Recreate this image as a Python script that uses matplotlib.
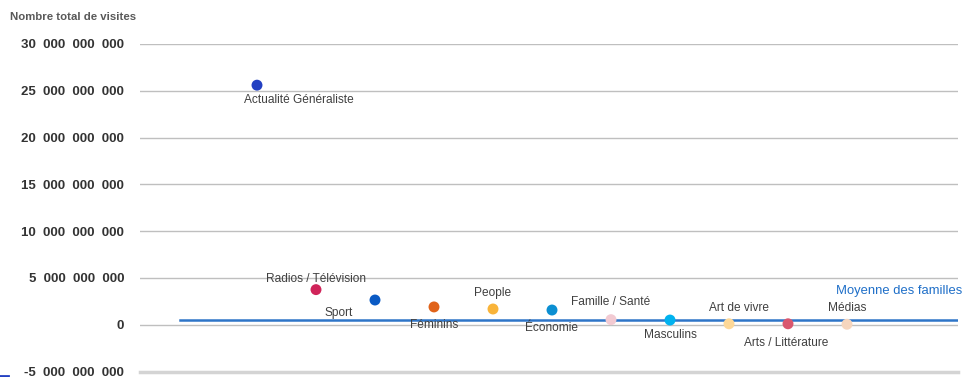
import matplotlib
matplotlib.use("Agg")
import matplotlib.pyplot as plt
from matplotlib.lines import Line2D
from matplotlib.ticker import FuncFormatter

plt.rcParams['font.family'] = ['Liberation Sans', 'DejaVu Sans']

# ---- data ----
categories = ["Actualité Généraliste", "Radios / Télévision", "Sport", "Féminins", "People",
              "Économie", "Famille / Santé", "Masculins", "Art de vivre", "Arts / Littérature", "Médias"]
visits = [25.6e9, 3.75e9, 2.64e9, 1.9e9, 1.68e9, 1.57e9, 0.54e9, 0.5e9, 0.1e9, 0.1e9, 0.05e9]
mean_visits = 0.54e9
mean_label = "Moyenne des familles"
y_title = "Nombre total de visites"
y_ticks = [-5e9, 0, 5e9, 10e9, 15e9, 20e9, 25e9, 30e9]

# ---- style ----
colors = ["#2340c2", "#d0245a", "#0a5ac4", "#e0631a", "#f9b43a", "#0b8fd2",
          "#f2cad2", "#00b2ef", "#fdd898", "#d9576e", "#f6d6be"]
label_offsets = [(42, -14.5), (0, 11), (-36, -13), (0, -18), (0, 16), (0, -18),
                 (0, 18), (0, -15), (10, 16), (-2, -19), (0, 16)]

W, H = 964, 377
fig = plt.figure(figsize=(W / 100, H / 100), dpi=100)
left, right, top, bottom = 140, 958, 44, 371.5
ax = fig.add_axes([left / W, 1 - bottom / H, (right - left) / W, (bottom - top) / H])

xs = list(range(1, len(categories) + 1))
ax.set_xlim(1 - 117 / 59, 1 + (958 - 257) / 59)
ax.set_ylim(-5e9, 30e9)

for y in y_ticks[1:]:
    ax.axhline(y, color="#bfbfbf", lw=1, zorder=1)
ax.axhline(-5e9, color="#d4d4d4", lw=2.5, zorder=1, clip_on=False)

# mean line
x0 = (180 - left) / (right - left)
ax.axhline(mean_visits, xmin=x0, xmax=1.0, color="#2e75c8", lw=1.8, zorder=2)
ax.annotate(mean_label, xy=(1.0, mean_visits), xycoords=("axes fraction", "data"),
            xytext=(4, 29), textcoords="offset pixels", ha="right", va="center",
            fontsize=9.4, color="#1f6fc8", annotation_clip=False)

ax.scatter(xs, visits, s=62, c=colors, zorder=3, linewidths=0)
for x, v, name, (dx, dy) in zip(xs, visits, categories, label_offsets):
    ax.annotate(name, xy=(x, v), xytext=(dx, dy), textcoords="offset pixels",
                ha="center", va="center", fontsize=8.6, color="#404040")

ax.set_yticks(y_ticks)
ax.yaxis.set_major_formatter(FuncFormatter(lambda v, p: f"{int(round(v)):,}".replace(",", "  ")))
ax.tick_params(axis="y", length=0, pad=11.5, labelsize=9.5, labelcolor="#333333")
for lbl in ax.get_yticklabels():
    lbl.set_fontweight("bold")
ax.set_xticks([])
for s in ax.spines.values():
    s.set_visible(False)

fig.text(10 / W, 1 - 17 / H, y_title, fontsize=8.2, fontweight="bold", color="#595959",
         ha="left", va="center")
fig.add_artist(Line2D([0, 8 / W], [1 - 376 / H, 1 - 376 / H], color="#2340c2", lw=2))

fig.savefig("out.png", dpi=100)
